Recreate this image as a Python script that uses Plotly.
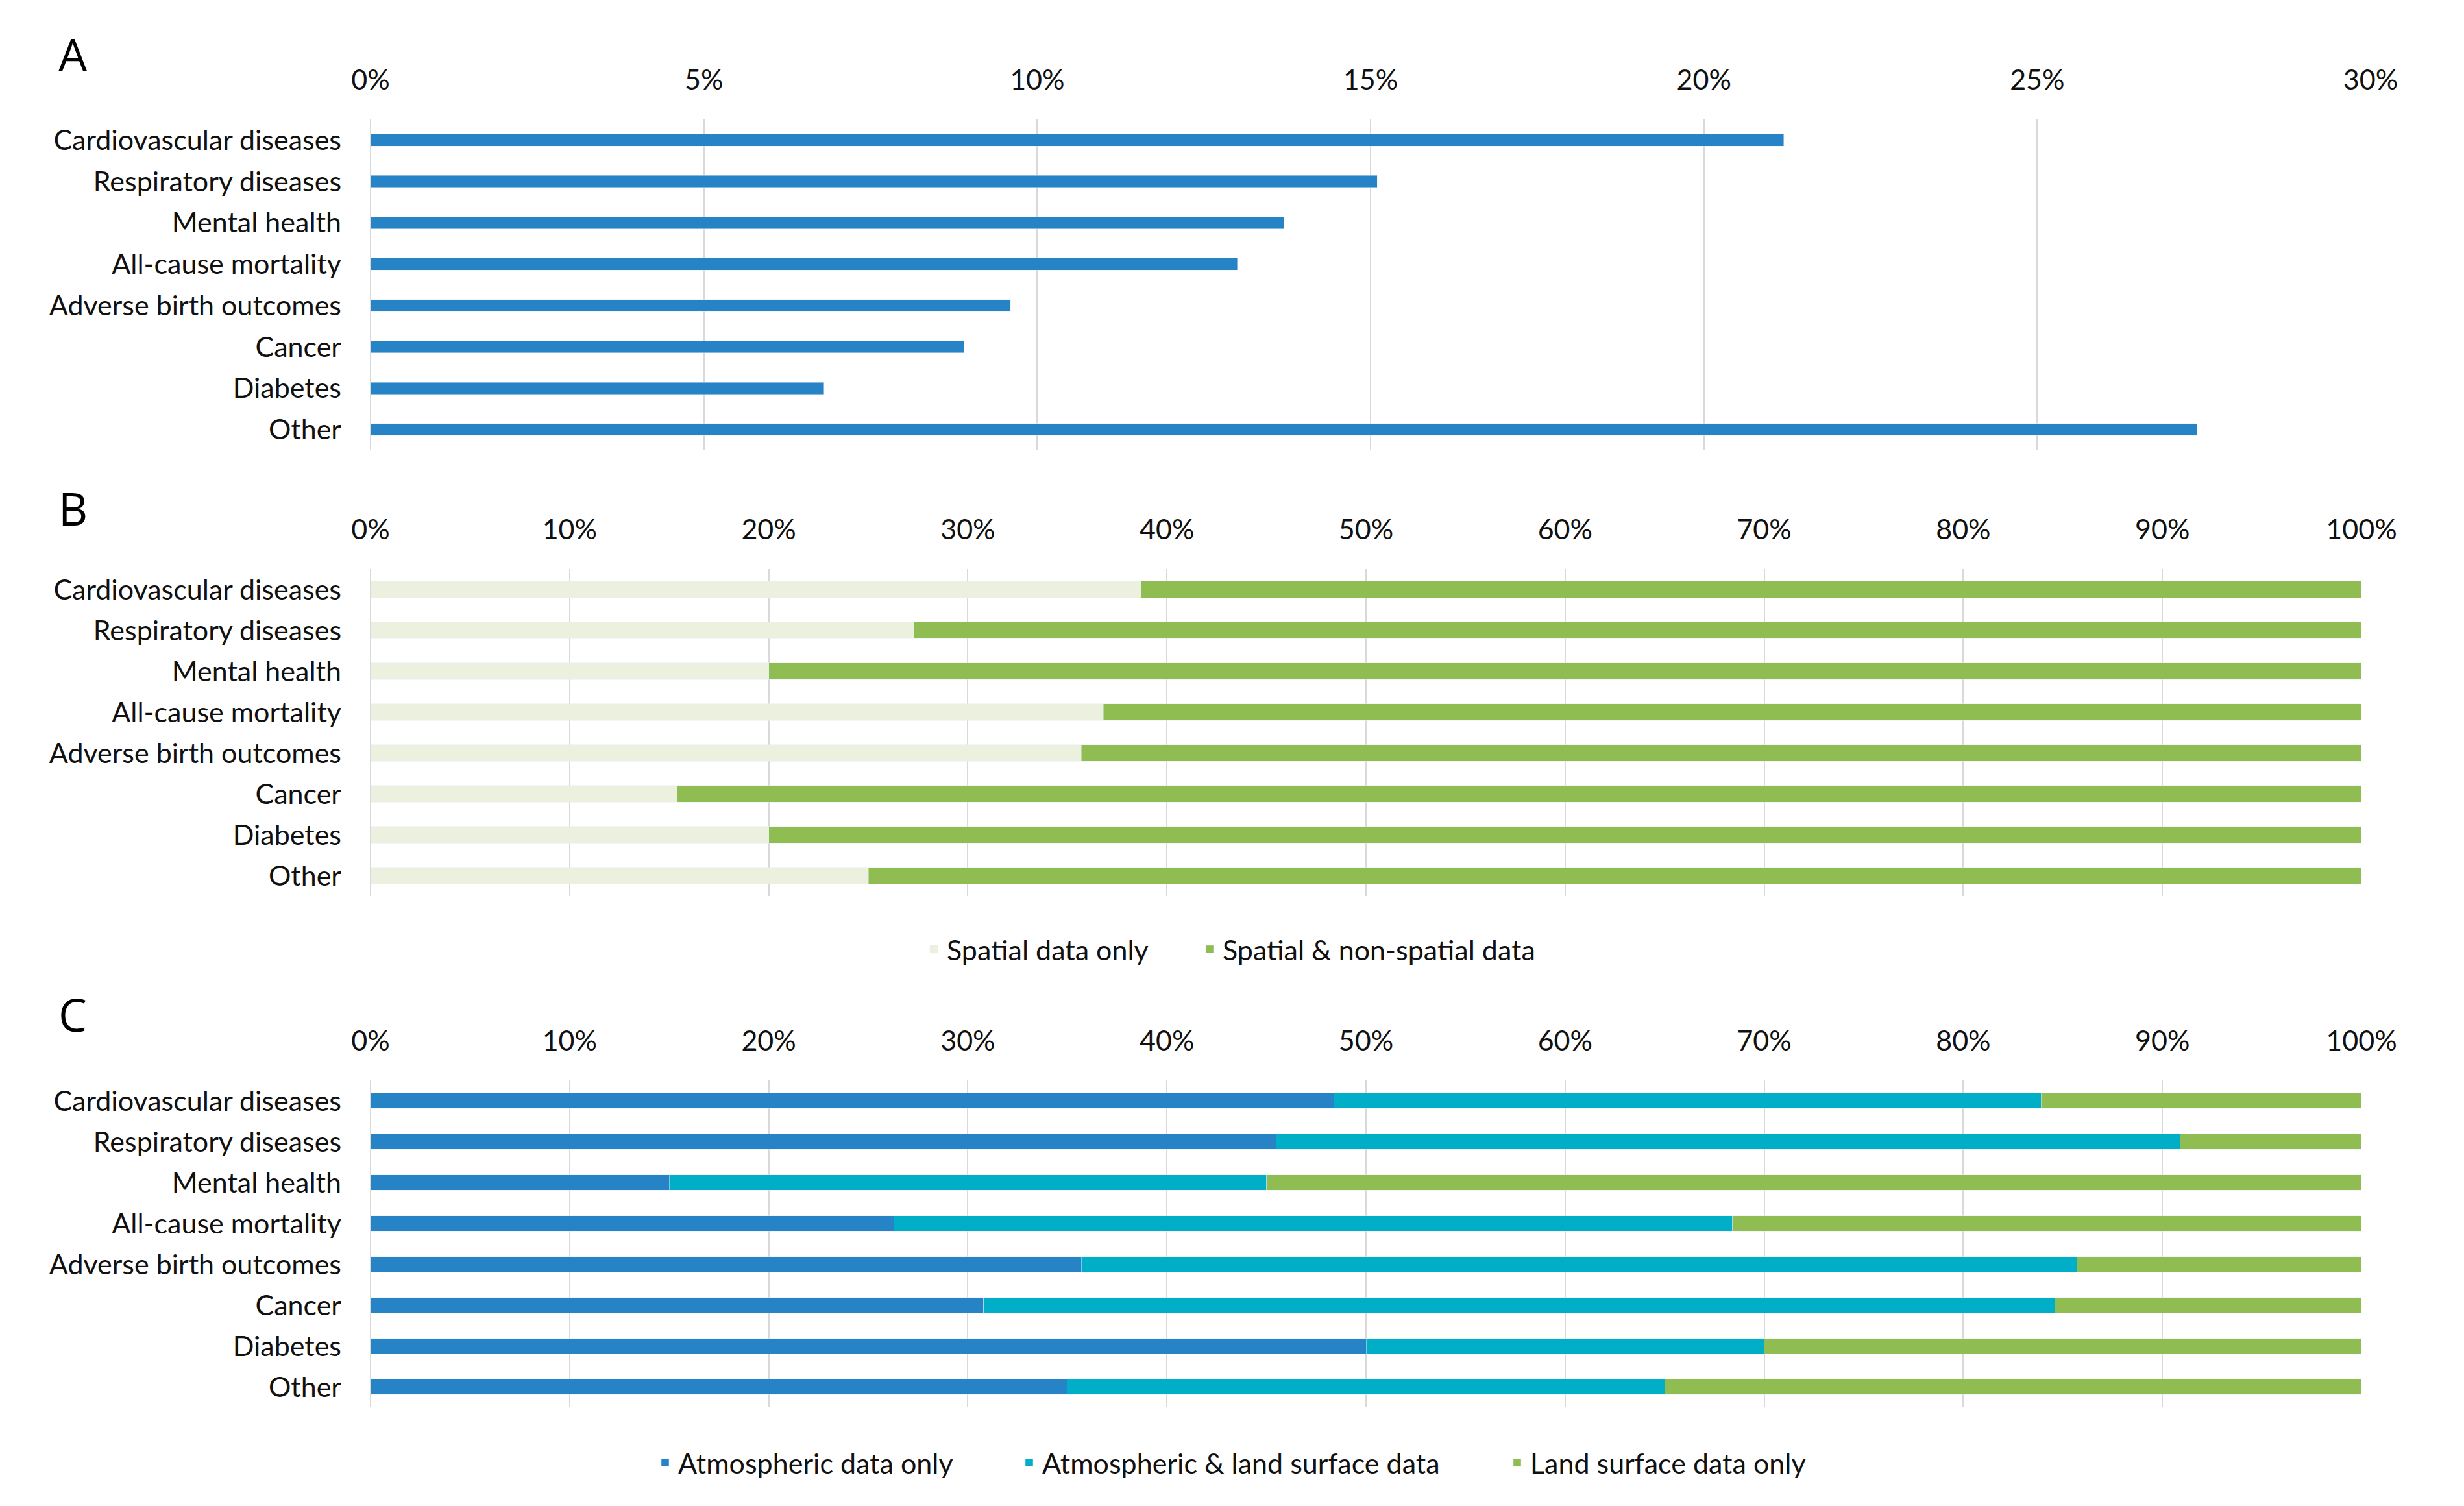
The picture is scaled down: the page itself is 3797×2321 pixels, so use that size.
import plotly.graph_objects as go

W, H = 3797, 2321

categories = ["Cardiovascular diseases", "Respiratory diseases", "Mental health",
              "All-cause mortality", "Adverse birth outcomes", "Cancer", "Diabetes", "Other"]

# Panel A: share of studies by health outcome (%)
share_pct = [21.2, 15.1, 13.7, 13.0, 9.6, 8.9, 6.8, 27.4]

# Panel B: spatial vs spatial & non-spatial (%)
spatial_only = [38.7, 27.3, 20.0, 36.8, 35.7, 15.4, 20.0, 25.0]
spatial_nonspatial = [61.3, 72.7, 80.0, 63.2, 64.3, 84.6, 80.0, 75.0]

# Panel C: atmospheric / land surface (%)
atmos_only = [48.4, 45.5, 15.0, 26.3, 35.7, 30.8, 50.0, 35.0]
atmos_land = [35.5, 45.4, 30.0, 42.1, 50.0, 53.8, 20.0, 30.0]
land_only = [16.1, 9.1, 55.0, 31.6, 14.3, 15.4, 30.0, 35.0]

ticks_a = [0, 5, 10, 15, 20, 25, 30]
ticks_bc = [0, 10, 20, 30, 40, 50, 60, 70, 80, 90, 100]

BLUE = "#2683C6"
TEAL = "#00AEC8"
GREEN = "#8FBD52"
LIGHT = "#EBF1DE"
GRID = "#D9D9D9"
FONT = "Lato"
FS = 43

fig = go.Figure()

fig.add_trace(go.Bar(x=share_pct, y=categories, orientation="h", marker_color=BLUE,
                     width=0.29, xaxis="x", yaxis="y", showlegend=False, name="Share"))

fig.add_trace(go.Bar(x=spatial_only, y=categories, orientation="h", marker_color=LIGHT,
                     width=0.41, xaxis="x2", yaxis="y2", name="Spatial data only", legend="legend"))
fig.add_trace(go.Bar(x=spatial_nonspatial, y=categories, orientation="h", marker_color=GREEN,
                     width=0.41, xaxis="x2", yaxis="y2", name="Spatial & non-spatial data", legend="legend5"))

fig.add_trace(go.Bar(x=atmos_only, y=categories, orientation="h", marker_color=BLUE,
                     width=0.38, xaxis="x3", yaxis="y3", name="Atmospheric data only", legend="legend2"))
fig.add_trace(go.Bar(x=atmos_land, y=categories, orientation="h", marker_color=TEAL,
                     width=0.38, xaxis="x3", yaxis="y3", name="Atmospheric & land surface data", legend="legend3"))
fig.add_trace(go.Bar(x=land_only, y=categories, orientation="h", marker_color=GREEN,
                     width=0.38, xaxis="x3", yaxis="y3", name="Land surface data only", legend="legend4"))


def xax(dom, rng, ticks, anchor):
    return dict(domain=dom, range=rng, tickvals=ticks, ticktext=[f"{t}%" for t in ticks],
                side="top", showgrid=True, gridcolor=GRID, gridwidth=2,
                zeroline=True, zerolinecolor=GRID, zerolinewidth=2, automargin=False,
                showline=False, ticks="", ticklabelstandoff=36,
                tickfont=dict(family=FONT, size=FS, color="#111111"), anchor=anchor, fixedrange=True)


def yax(dom, anchor):
    return dict(domain=dom, range=[7.5, -0.5], type="category", categoryorder="array",
                categoryarray=categories, showgrid=False, zeroline=False, showline=False,
                ticks="", ticklabelstandoff=44, automargin=False,
                tickfont=dict(family=FONT, size=FS, color="#111111"), anchor=anchor, fixedrange=True)


def leg(xpx, ypx):
    return dict(orientation="h", x=xpx / W, xanchor="left", y=1 - ypx / H, yanchor="middle",
                font=dict(family=FONT, size=FS, color="#111111"), bgcolor="rgba(0,0,0,0)")


xl = 571 / W
fig.update_layout(
    width=W, height=H, margin=dict(l=0, r=0, t=0, b=0, autoexpand=False),
    paper_bgcolor="white", plot_bgcolor="white", barmode="stack",
    font=dict(family=FONT, size=FS, color="#111111"),
    xaxis=xax([xl, 3653 / W], [0, 30], ticks_a, "y"),
    yaxis=yax([1 - 694 / H, 1 - 184 / H], "x"),
    xaxis2=xax([xl, 3639 / W], [0, 100], ticks_bc, "y2"),
    yaxis2=yax([1 - 1381 / H, 1 - 877 / H], "x2"),
    xaxis3=xax([xl, 3639 / W], [0, 100], ticks_bc, "y3"),
    yaxis3=yax([1 - 2169 / H, 1 - 1665 / H], "x3"),
    legend=leg(1419, 1463),
    legend5=leg(1844, 1463),
    legend2=leg(1005, 2254),
    legend3=leg(1566, 2254),
    legend4=leg(2318, 2254),
    annotations=[
        dict(text=t, x=88 / W, y=1 - yy / H, xref="paper", yref="paper", xanchor="left",
             yanchor="middle", showarrow=False, font=dict(family="Open Sans", size=70, color="#000000"))
        for t, yy in [("A", 83), ("B", 783), ("C", 1563)]
    ],
)

fig.write_html("out.html", config={"displayModeBar": False},
               post_script="document.body.style.margin='0';document.body.style.overflow='hidden';")
